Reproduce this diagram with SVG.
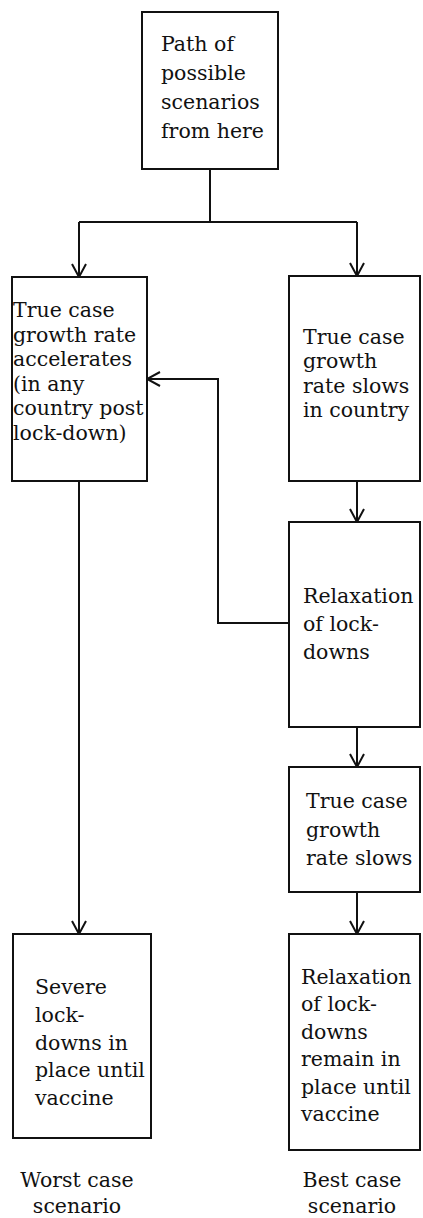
<svg xmlns="http://www.w3.org/2000/svg" width="423" height="1218" viewBox="0 0 423 1218">
<style>
.box{fill:#fff;stroke:#111;stroke-width:2}
.t{font-family:"DejaVu Serif","Liberation Serif",serif;font-size:20.5px;fill:#111}
.c{fill:none;stroke:#111;stroke-width:2}
</style>
<defs>
<marker id="arr" viewBox="-15 -9 17 18" markerWidth="17" markerHeight="18" refX="0" refY="0" markerUnits="userSpaceOnUse" orient="auto">
<path d="M-13,-7 L0,0 L-13,7" fill="none" stroke="#111" stroke-width="2"/>
</marker>
</defs>
<rect width="423" height="1218" fill="#fff"/>
<g id="connectors">
<path class="c" d="M210,169 V222 M79,222 H357"/>
<path class="c" d="M79,222 V277" marker-end="url(#arr)"/>
<path class="c" d="M357,222 V276" marker-end="url(#arr)"/>
<path class="c" d="M79,481 V934" marker-end="url(#arr)"/>
<path class="c" d="M357,481 V522" marker-end="url(#arr)"/>
<path class="c" d="M357,727 V767" marker-end="url(#arr)"/>
<path class="c" d="M357,892 V934" marker-end="url(#arr)"/>
<path class="c" d="M289,623 H218 V379 H147" marker-end="url(#arr)"/>
</g>
<g id="start">
<rect class="box" x="142" y="12" width="136" height="157"/>
<text class="t" x="161"><tspan x="161" y="51">Path of</tspan><tspan x="161" y="80">possible</tspan><tspan x="161" y="109">scenarios</tspan><tspan x="161" y="138">from here</tspan></text>
</g>
<g id="accelerates">
<rect class="box" x="12" y="277" width="135" height="204"/>
<text class="t"><tspan x="13" y="317">True case</tspan><tspan x="13" y="342">growth rate</tspan><tspan x="13" y="366">accelerates</tspan><tspan x="13" y="391">(in any</tspan><tspan x="13" y="415">country post</tspan><tspan x="13" y="440">lock-down)</tspan></text>
</g>
<g id="slows">
<rect class="box" x="289" y="276" width="131" height="205"/>
<text class="t"><tspan x="303" y="344">True case</tspan><tspan x="303" y="368">growth</tspan><tspan x="303" y="393">rate slows</tspan><tspan x="303" y="417">in country</tspan></text>
</g>
<g id="relaxation">
<rect class="box" x="289" y="522" width="131" height="205"/>
<text class="t"><tspan x="303" y="603">Relaxation</tspan><tspan x="303" y="631">of lock-</tspan><tspan x="303" y="659">downs</tspan></text>
</g>
<g id="slows2">
<rect class="box" x="289" y="767" width="131" height="125"/>
<text class="t"><tspan x="306" y="808">True case</tspan><tspan x="306" y="837">growth</tspan><tspan x="306" y="865">rate slows</tspan></text>
</g>
<g id="severe">
<rect class="box" x="13" y="934" width="138" height="204"/>
<text class="t"><tspan x="35" y="994">Severe</tspan><tspan x="35" y="1022">lock-</tspan><tspan x="35" y="1050">downs in</tspan><tspan x="35" y="1077">place until</tspan><tspan x="35" y="1105">vaccine</tspan></text>
</g>
<g id="best">
<rect class="box" x="289" y="934" width="131" height="216"/>
<text class="t"><tspan x="301" y="984">Relaxation</tspan><tspan x="301" y="1011">of lock-</tspan><tspan x="301" y="1039">downs</tspan><tspan x="301" y="1066">remain in</tspan><tspan x="301" y="1094">place until</tspan><tspan x="301" y="1121">vaccine</tspan></text>
</g>
<g id="labels">
<text class="t" text-anchor="middle"><tspan x="77" y="1187">Worst case</tspan><tspan x="77" y="1213">scenario</tspan></text>
<text class="t" text-anchor="middle"><tspan x="352" y="1187">Best case</tspan><tspan x="352" y="1213">scenario</tspan></text>
</g>
</svg>
